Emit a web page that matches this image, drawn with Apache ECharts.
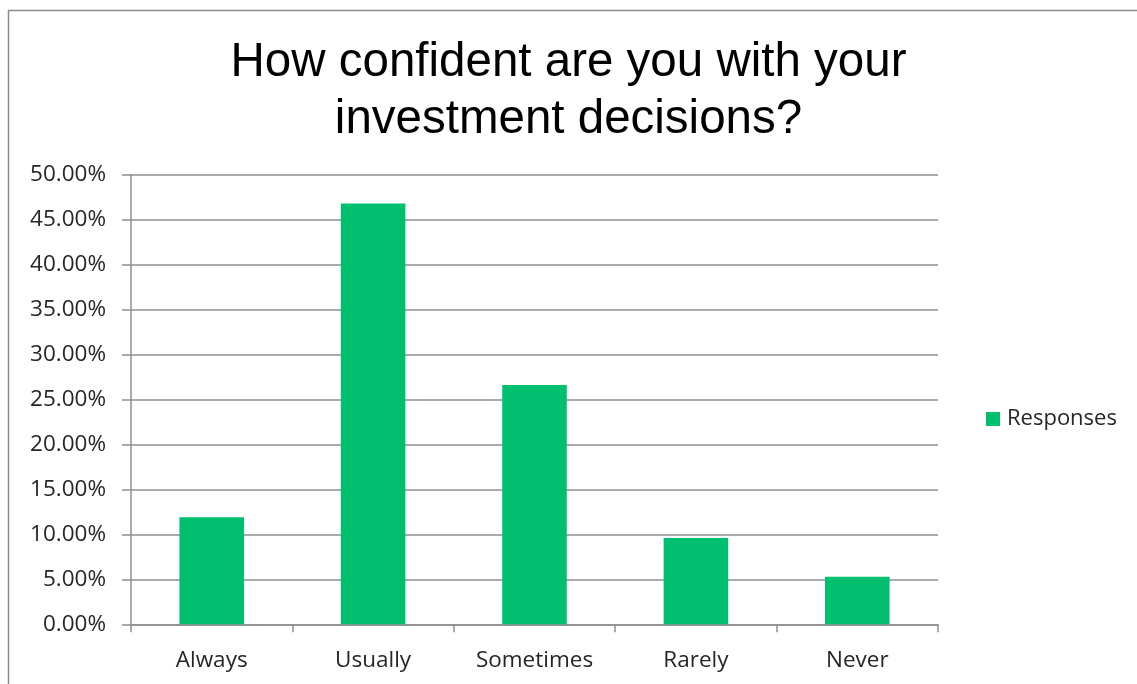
<!DOCTYPE html>
<html>
<head>
<meta charset="utf-8">
<title>How confident are you with your investment decisions?</title>
<script src="https://cdn.jsdelivr.net/npm/echarts@6/dist/echarts.min.js"></script>
<style>
  html, body { margin: 0; padding: 0; background: #ffffff; }
  #chart { width: 1137px; height: 684px; }
</style>
</head>
<body>
<div id="chart"></div>
<script>
// Survey answers and the share of responses for each
const categories = ['Always', 'Usually', 'Sometimes', 'Rarely', 'Never'];
const responses = [0.119, 0.468, 0.266, 0.096, 0.053];
const seriesName = 'Responses';
const titleLines = ['How confident are you with your', 'investment decisions?'];

const labelFont = '"Open Sans", "Noto Sans", sans-serif';
const gridColor = '#8f8f8f';

const chart = echarts.init(document.getElementById('chart'), null, { renderer: 'canvas' });

chart.setOption({
  backgroundColor: '#ffffff',
  animation: false,
  title: {
    text: titleLines.join('\n'),
    left: 'center',
    top: 29,
    textStyle: {
      fontFamily: '"Liberation Sans", Arial, sans-serif',
      fontWeight: 'normal',
      fontSize: 47.5,
      lineHeight: 57,
      color: '#000000'
    }
  },
  legend: {
    data: [seriesName],
    orient: 'vertical',
    left: 981,
    top: 403,
    icon: 'rect',
    itemWidth: 14,
    itemHeight: 14,
    textStyle: {
      fontFamily: labelFont,
      fontSize: 22,
      color: '#262626',
      padding: [0, 0, 0, 2]
    }
  },
  grid: {
    left: 131,
    right: 199,
    top: 174.7,
    bottom: 59.7,
    containLabel: false
  },
  xAxis: {
    type: 'category',
    data: categories,
    boundaryGap: true,
    axisLine: { show: true, lineStyle: { color: gridColor, width: 1.5 } },
    axisTick: { show: true, alignWithLabel: false, length: 8, lineStyle: { color: gridColor, width: 1.5 } },
    axisLabel: {
      margin: 25,
      fontFamily: labelFont,
      fontSize: 22.5,
      color: '#262626'
    }
  },
  yAxis: {
    type: 'value',
    min: 0,
    max: 0.5,
    interval: 0.05,
    axisLine: { show: true, lineStyle: { color: gridColor, width: 1.5 } },
    axisTick: { show: true, length: 9, lineStyle: { color: gridColor, width: 1.5 } },
    splitLine: { show: true, lineStyle: { color: gridColor, width: 1.5 } },
    axisLabel: {
      margin: 25,
      fontFamily: labelFont,
      fontSize: 22.5,
      color: '#262626',
      formatter: v => (v * 100).toFixed(2) + '%'
    }
  },
  series: [{
    name: seriesName,
    type: 'bar',
    data: responses,
    barWidth: '40%',
    itemStyle: { color: '#00bf6f' }
  }],
  graphic: [{
    type: 'rect',
    silent: true,
    z: -1,
    shape: { x: 8.5, y: 10.5, width: 1135, height: 700 },
    style: { fill: 'none', stroke: '#8a8a8a', lineWidth: 1.5 }
  }]
});
</script>
</body>
</html>
